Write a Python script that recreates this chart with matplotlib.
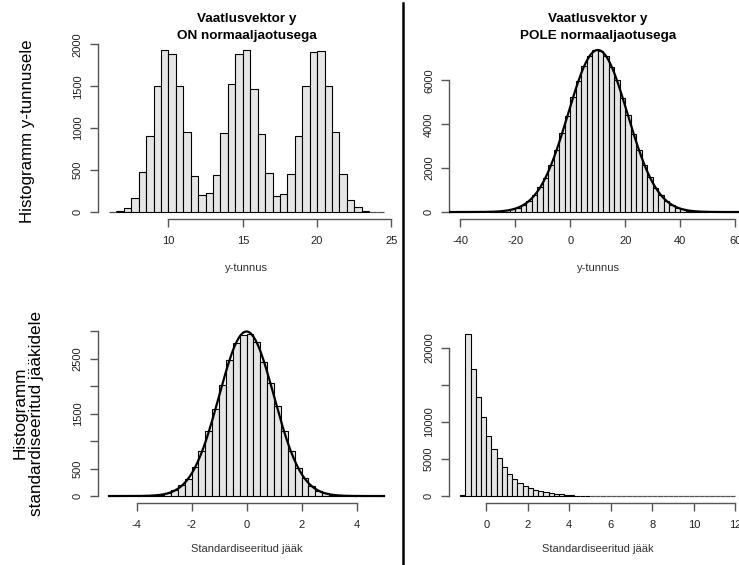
import matplotlib.pyplot as plt
from matplotlib.lines import Line2D
import numpy as np

plt.rcParams['font.family'] = ['Liberation Sans', 'DejaVu Sans']
plt.rcParams['axes.unicode_minus'] = False

# top left: y with mixture of three normals, bins of 0.5 from 6 to 24.5
y_on_edges = np.arange(6.0, 24.51, 0.5)
y_on_counts = [0, 8, 44, 163, 473, 910, 1507, 1928, 1881, 1507,
               958, 429, 207, 223, 437, 938, 1523, 1881, 1928, 1471,
               926, 461, 195, 215, 453, 903, 1507, 1908, 1916, 1499,
               958, 453, 143, 56, 16, 0, 0]

# top right: bins of 2 from -30 to 50
y_pole_edges = np.arange(-30, 50.1, 2)
y_pole_counts = [10, 22, 38, 70, 118, 204, 322, 510, 760, 1120,
                 1565, 2150, 2810, 3590, 4390, 5230, 5980, 6650, 7100, 7370,
                 7350, 7120, 6630, 6000, 5210, 4410, 3570, 2830, 2130, 1580,
                 1110, 770, 500, 330, 198, 122, 68, 40, 20, 11]
y_pole_mean, y_pole_sd, y_pole_n = 10.0, 10.8, 100000

# bottom left: standardized residuals, bins of 0.25 from -4 to 4
res_on_edges = np.arange(-4.0, 4.01, 0.25)
res_on_counts = [2, 5, 12, 25, 52, 104, 192, 318, 528, 822,
                 1190, 1585, 2015, 2470, 2790, 2935,
                 2940, 2800, 2430, 2060, 1640, 1180, 810, 505,
                 320, 178, 95, 50, 22, 10, 4, 1]
res_on_n = 30000

# bottom right: skewed residuals, bins of 0.25 from -1.25 to 12
res_pole_edges = np.arange(-1.25, 12.01, 0.25)
res_pole_counts = [150, 21790, 17070, 13300, 10600, 8090, 6380, 5120, 3950, 2965,
                   2245, 1800, 1390, 1030, 810, 630, 490, 400, 310, 225,
                   150, 100, 70, 45, 25] + [0] * 28

W, H = 739, 565
fig = plt.figure(figsize=(W / 100, H / 100), dpi=100)

def px_axes(left, top, right, bottom):
    return fig.add_axes([left / W, 1 - bottom / H, (right - left) / W, (bottom - top) / H])

ax1 = px_axes(98, 43.9, 395, 218.5)
ax2 = px_axes(449.3, 43.9, 746.3, 218.5)
ax3 = px_axes(98, 327.9, 395, 502.5)
ax4 = px_axes(449.3, 327.9, 746.3, 502.5)

def r_hist(ax, edges, counts, xlim, xticks, yticks, ylabels=None):
    counts = np.asarray(counts, dtype=float)
    left, width = edges[:-1], np.diff(edges)
    nz = counts > 0
    ax.bar(left[nz], counts[nz], width=width[nz], align='edge',
           color='#e5e5e5', edgecolor='black', linewidth=0.8, zorder=2)
    # empty bins show only as a flat line, as in R
    ax.hlines(np.zeros((~nz).sum()), left[~nz], left[~nz] + width[~nz],
              color='#555555', linewidth=0.9, zorder=2)
    ax.set_xlim(xlim)
    ymax = counts.max()
    ax.set_ylim(-0.04 * ymax, 1.04 * ymax)
    ax.set_xticks(xticks)
    ax.set_yticks(yticks)
    if ylabels is not None:
        ax.set_yticklabels(ylabels)
    for s in ['top', 'right']:
        ax.spines[s].set_visible(False)
    ax.spines['left'].set_bounds(yticks[0], yticks[-1])
    ax.spines['bottom'].set_bounds(xticks[0], xticks[-1])
    for s in ['left', 'bottom']:
        ax.spines[s].set_color('#555555')
        ax.spines[s].set_linewidth(1.0)
    ax.tick_params(direction='out', length=5.5, width=1.0, color='#555555',
                   labelsize=8, labelcolor='#222222')
    ax.tick_params(axis='x', pad=7)
    ax.tick_params(axis='y', pad=5.5)
    for lab in ax.get_yticklabels():
        lab.set_rotation(90)
        lab.set_va('center')
    ax.patch.set_alpha(0)

r_hist(ax1, y_on_edges, y_on_counts, (5.26, 25.24), [10, 15, 20, 25],
       [0, 500, 1000, 1500, 2000])
r_hist(ax2, y_pole_edges, y_pole_counts, (-44, 64), [-40, -20, 0, 20, 40, 60],
       [0, 2000, 4000, 6000])
r_hist(ax3, res_on_edges, res_on_counts, (-5.4, 5.4), [-4, -2, 0, 2, 4],
       [0, 500, 1000, 1500, 2000, 2500, 3000],
       ['0', '500', '', '1500', '', '2500', ''])
r_hist(ax4, res_pole_edges, res_pole_counts, (-1.78, 12.53), [0, 2, 4, 6, 8, 10, 12],
       [0, 5000, 10000, 15000, 20000], ['0', '5000', '10000', '', '20000'])

# fitted normal curves
xs = np.linspace(-44, 64, 400)
ax2.plot(xs, y_pole_n * 2 * np.exp(-0.5 * ((xs - y_pole_mean) / y_pole_sd) ** 2)
         / (y_pole_sd * np.sqrt(2 * np.pi)), color='black', lw=1.6, zorder=3)
xs = np.linspace(-5, 5, 300)
ax3.plot(xs, res_on_n * 0.25 * np.exp(-0.5 * xs ** 2) / np.sqrt(2 * np.pi),
         color='black', lw=1.6, zorder=3)

# titles
for cx, second in [(246.5, 'ON normaaljaotusega'), (597.8, 'POLE normaaljaotusega')]:
    fig.text(cx / W, 1 - 21.7 / H, 'Vaatlusvektor y', ha='center', va='baseline',
             fontsize=9.7, fontweight='bold')
    fig.text(cx / W, 1 - 39.3 / H, second, ha='center', va='baseline',
             fontsize=9.7, fontweight='bold')

# x labels
for cx in (246.5, 598):
    fig.text(cx / W, 1 - 271 / H, 'y-tunnus', ha='center', va='baseline',
             fontsize=8, color='#333333')
    fig.text(cx / W, 1 - 552 / H, 'Standardiseeritud jääk', ha='center',
             va='baseline', fontsize=8, color='#333333')

# row labels
fig.text(28 / W, 1 - 131.5 / H, 'Histogramm y-tunnusele', rotation=90,
         ha='center', va='center', fontsize=12.2)
fig.text(28.5 / W, 1 - 413 / H, 'Histogramm\nstandardiseeritud jääkidele',
         rotation=90, ha='center', va='center', fontsize=12.3, linespacing=1.1)

# separator
fig.add_artist(Line2D([403 / W, 403 / W], [0, 1 - 3 / H], color='black', lw=1.8))

fig.savefig('out.png', dpi=100)
